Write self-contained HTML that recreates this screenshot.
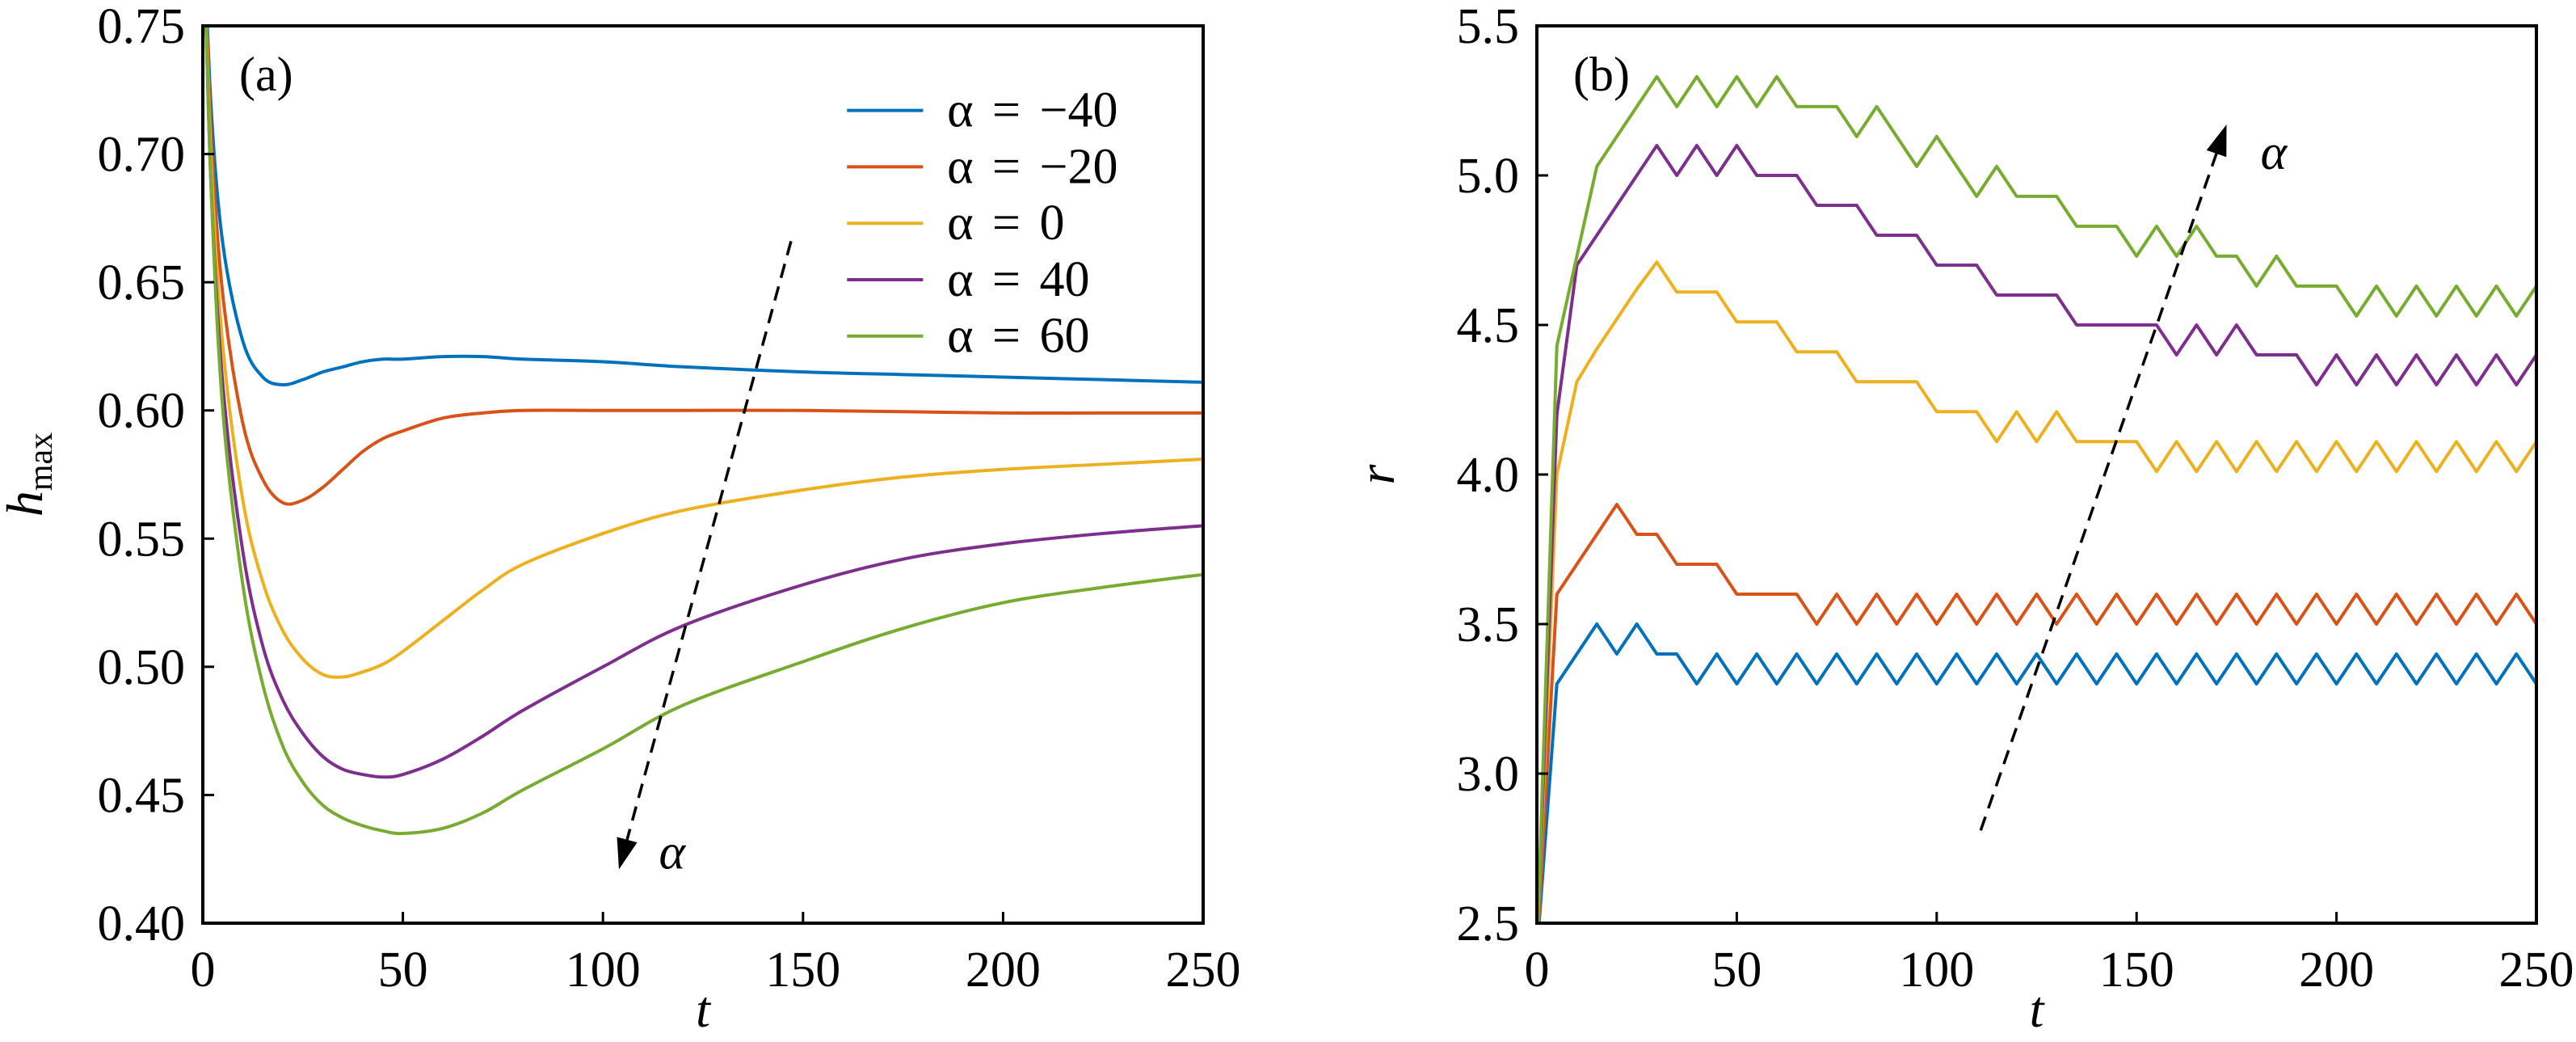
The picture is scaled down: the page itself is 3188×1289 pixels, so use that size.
<!DOCTYPE html>
<html><head><meta charset="utf-8"><style>
body{margin:0;background:#fff}
svg{display:block}
</style></head><body>
<svg id="fig" width="3188" height="1289" viewBox="0 0 3188 1289"></svg>
<script>
const ta=[0,2,5,10,15,20,25,30,35,40,45,50,60,70,80,100,120,150,175,200,225,250];
const hBlue=[0.80,0.72,0.665,0.627,0.613,0.610,0.612,0.615,0.617,0.619,0.620,0.620,0.621,0.621,0.620,0.619,0.617,0.615,0.614,0.613,0.612,0.611];
const hRed=[0.80,0.71,0.645,0.595,0.573,0.564,0.565,0.570,0.577,0.584,0.589,0.592,0.597,0.599,0.600,0.600,0.600,0.600,0.5995,0.599,0.599,0.599];
const hYellow=[0.80,0.70,0.625,0.565,0.533,0.514,0.503,0.497,0.496,0.498,0.501,0.506,0.518,0.530,0.540,0.552,0.561,0.569,0.574,0.577,0.579,0.581];
const hPurple=[0.80,0.69,0.61,0.545,0.508,0.487,0.474,0.465,0.460,0.458,0.457,0.458,0.464,0.473,0.483,0.500,0.516,0.532,0.542,0.548,0.552,0.555];
const hGreen=[0.80,0.69,0.60,0.532,0.493,0.469,0.455,0.446,0.441,0.438,0.436,0.435,0.437,0.443,0.452,0.468,0.485,0.502,0.515,0.525,0.531,0.536];
const tb=[0,5,10,15,20,25,30,35,40,45,50,55,60,65,70,75,80,85,90,95,100,105,110,115,120,125,130,135,140,145,150,155,160,165,170,175,180,185,190,195,200,205,210,215,220,225,230,235,240,245,250];
const rBlue=[2.4,3.3,3.4,3.5,3.4,3.5,3.4,3.4,3.3,3.4,3.3,3.4,3.3,3.4,3.3,3.4,3.3,3.4,3.3,3.4,3.3,3.4,3.3,3.4,3.3,3.4,3.3,3.4,3.3,3.4,3.3,3.4,3.3,3.4,3.3,3.4,3.3,3.4,3.3,3.4,3.3,3.4,3.3,3.4,3.3,3.4,3.3,3.4,3.3,3.4,3.3];
const rRed=[2.4,3.6,3.7,3.8,3.9,3.8,3.8,3.7,3.7,3.7,3.6,3.6,3.6,3.6,3.5,3.6,3.5,3.6,3.5,3.6,3.5,3.6,3.5,3.6,3.5,3.6,3.5,3.6,3.5,3.6,3.5,3.6,3.5,3.6,3.5,3.6,3.5,3.6,3.5,3.6,3.5,3.6,3.5,3.6,3.5,3.6,3.5,3.6,3.5,3.6,3.5];
const rYellow=[2.4,4.0,4.31,4.42,4.52,4.62,4.71,4.61,4.61,4.61,4.51,4.51,4.51,4.41,4.41,4.41,4.31,4.31,4.31,4.31,4.21,4.21,4.21,4.11,4.21,4.11,4.21,4.11,4.11,4.11,4.11,4.01,4.11,4.01,4.11,4.01,4.11,4.01,4.11,4.01,4.11,4.01,4.11,4.01,4.11,4.01,4.11,4.01,4.11,4.01,4.11];
const rPurple=[2.4,4.2,4.7,4.8,4.9,5.0,5.1,5.0,5.1,5.0,5.1,5.0,5.0,5.0,4.9,4.9,4.9,4.8,4.8,4.8,4.7,4.7,4.7,4.6,4.6,4.6,4.6,4.5,4.5,4.5,4.5,4.5,4.4,4.5,4.4,4.5,4.4,4.4,4.4,4.3,4.4,4.3,4.4,4.3,4.4,4.3,4.4,4.3,4.4,4.3,4.4];
const rGreen=[2.4,4.43,4.73,5.03,5.13,5.23,5.33,5.23,5.33,5.23,5.33,5.23,5.33,5.23,5.23,5.23,5.13,5.23,5.13,5.03,5.13,5.03,4.93,5.03,4.93,4.93,4.93,4.83,4.83,4.83,4.73,4.83,4.73,4.83,4.73,4.73,4.63,4.73,4.63,4.63,4.63,4.53,4.63,4.53,4.63,4.53,4.63,4.53,4.63,4.53,4.63];
const xTicks=[0,50,100,150,200,250];
const yTicksA=[0.40,0.45,0.50,0.55,0.60,0.65,0.70,0.75];
const yTicksB=[2.5,3.0,3.5,4.0,4.5,5.0,5.5];
const legendLabels=["α = −40","α = −20","α = 0","α = 40","α = 60"];
const colors=["#0072BD","#D95319","#EDB120","#7E2F8E","#77AC30"];
const svg=document.getElementById('fig');const NS='http://www.w3.org/2000/svg';
function mk(tag,attrs,parent){const e=document.createElementNS(NS,tag);for(const k in attrs)e.setAttribute(k,attrs[k]);if(tag==='text'){e.style.fontFamily="'Liberation Serif', 'DejaVu Serif', serif";e.setAttribute('fill','#000');}(parent||svg).appendChild(e);return e;}
function smoothPath(pts){let d='M'+pts[0][0]+','+pts[0][1];
 for(let i=0;i<pts.length-1;i++){const p0=pts[Math.max(0,i-1)],p1=pts[i],p2=pts[i+1],p3=pts[Math.min(pts.length-1,i+2)];
  const c1=[p1[0]+(p2[0]-p0[0])/6,p1[1]+(p2[1]-p0[1])/6],c2=[p2[0]-(p3[0]-p1[0])/6,p2[1]-(p3[1]-p1[1])/6];
  d+=` C${c1[0]},${c1[1]} ${c2[0]},${c2[1]} ${p2[0]},${p2[1]}`;}
 return d;}
function panel(id,x0,x1,y0,y1,ymin,ymax,yt,dec,xs,series,ylab,ylx,pl,smooth){
 const g=mk('g',{});
 
 
 const X=t=>x0+(t/250)*(x1-x0);const Y=v=>y1-(v-ymin)/(ymax-ymin)*(y1-y0);
 const cid='clip'+id;const cp=mk('clipPath',{id:cid},g);mk('rect',{x:x0,y:y0,width:x1-x0,height:y1-y0},cp);
 const sg=mk('g',{'clip-path':'url(#'+cid+')'},g);
 series.forEach((s,i)=>{const pts=xs.map((t,j)=>[X(t),Y(s[j])]);let p;
  if(smooth)p=mk('path',{d:smoothPath(pts),fill:'none',stroke:colors[i],'stroke-width':4},sg);
  else p=mk('polyline',{points:pts.map(q=>q.join(',')).join(' '),fill:'none',stroke:colors[i],'stroke-width':4,'stroke-linejoin':'round'},sg);
  
  });
 xTicks.forEach(t=>{mk('line',{x1:X(t),x2:X(t),y1:y1,y2:y1-14,stroke:'#000','stroke-width':3},g);
  const tx=mk('text',{x:X(t),y:y1+78,'font-size':62,'text-anchor':'middle'},g);tx.textContent=t;
  
  });
 yt.forEach(v=>{mk('line',{x1:x0,x2:x0+14,y1:Y(v),y2:Y(v),stroke:'#000','stroke-width':3},g);
  const tx=mk('text',{x:x0-22,y:Y(v)+21,'font-size':62,'text-anchor':'end'},g);tx.textContent=v.toFixed(dec);
  
  });
 mk('rect',{x:x0,y:y0,width:x1-x0,height:y1-y0,fill:'none',stroke:'#000','stroke-width':4},g);
 const xl=mk('text',{x:(x0+x1)/2,y:1270,'font-size':64,'font-style':'italic','text-anchor':'middle'},g);xl.textContent='t';
 
 
 const yl=mk('text',{x:ylx,y:(y0+y1)/2,'font-size':64,'font-style':'italic','text-anchor':'middle',transform:'rotate(-90 '+ylx+' '+(y0+y1)/2+')'},g);yl.innerHTML=ylab;
 
 
 const pt=mk('text',{x:x0+45,y:y0+80,'font-size':60},g);pt.textContent=pl;
 
 
 return {X,Y,g};
}
const A=panel('panel-a',251,1489,32,1142,0.40,0.75,yTicksA,2,ta,[hBlue,hRed,hYellow,hPurple,hGreen],'h<tspan font-size="42" font-style="normal" dy="12">max</tspan>',52,'(a)',true);
const B=panel('panel-b',1902,3139,32,1142,2.5,5.5,yTicksB,1,tb,[rBlue,rRed,rYellow,rPurple,rGreen],'r',1725,'(b)',false);
const legY=[0.717,0.695,0.673,0.651,0.629];
legendLabels.forEach((l,i)=>{const y=A.Y(legY[i]);
 const ln=mk('line',{x1:A.X(161),x2:A.X(180),y1:y,y2:y,stroke:colors[i],'stroke-width':4},A.g);
 
 
 const t=mk('text',{x:A.X(186),y:y+20,'font-size':62,'word-spacing':'8'},A.g);t.textContent=l;
 
 });
function arrow(P,t0,v0,t1,v1,lt,lv,name){
 const x0=P.X(t0),y0=P.Y(v0),x1=P.X(t1),y1=P.Y(v1);
 const dx=x1-x0,dy=y1-y0,L=Math.hypot(dx,dy),ux=dx/L,uy=dy/L;
 const bx=x1-ux*38,by=y1-uy*38;
 const ln=mk('line',{x1:x0,y1:y0,x2:bx,y2:by,stroke:'#000','stroke-width':3.5,'stroke-dasharray':'18 11'},P.g);
 
 
 mk('polygon',{points:`${x1},${y1} ${bx-uy*13},${by+ux*13} ${bx+uy*13},${by-ux*13}`,fill:'#000'},P.g);
 const t=mk('text',{x:P.X(lt),y:P.Y(lv)+18,'font-size':62,'font-style':'italic'},P.g);t.textContent='α';
 
 
}
arrow(A,147,0.666,104,0.421,114,0.427,'alpha-arrow-a');
arrow(B,111,2.81,172.5,5.17,181,5.07,'alpha-arrow-b');
</script>
</body></html>
